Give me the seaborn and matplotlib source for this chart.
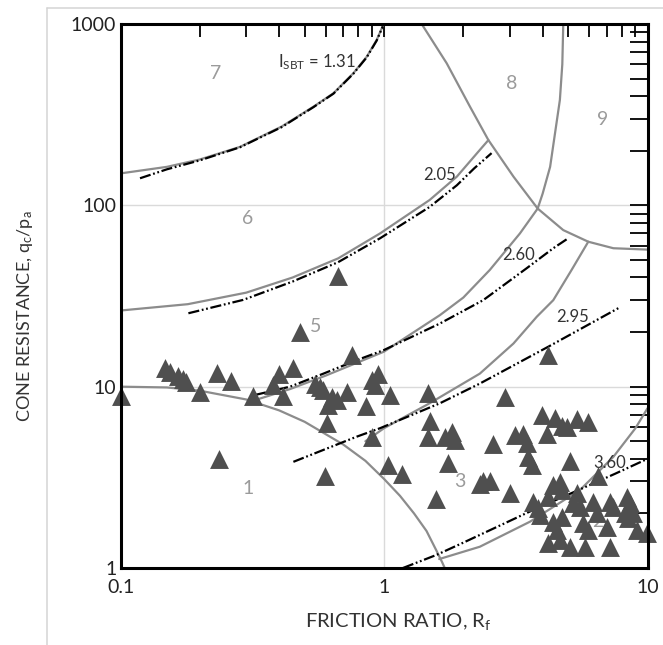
import matplotlib
matplotlib.use("Agg")
import matplotlib.pyplot as plt
import seaborn as sns
from matplotlib.lines import Line2D
from matplotlib.ticker import FixedLocator, FixedFormatter, LogLocator, NullFormatter

sns.set_theme(style="white")
plt.rcParams['font.family'] = ['Lato', 'DejaVu Sans']
plt.rcParams['mathtext.fontset'] = 'custom'
plt.rcParams['mathtext.rm'] = 'Lato'
plt.rcParams['mathtext.it'] = 'Lato:italic'

# ---- CPT measurements (friction ratio Rf in %, normalised cone resistance qc/pa)
friction_ratio = [
    0.100, 0.148, 0.154, 0.166, 0.172, 0.178, 0.200, 0.233, 0.263, 0.236,
    0.319, 0.380, 0.400, 0.415, 0.450, 0.480, 0.547, 0.571, 0.589, 0.633,
    0.661, 0.722, 0.615, 0.610, 0.671, 0.754, 0.855, 0.898, 0.951, 0.925,
    1.054, 0.898, 0.597, 1.040, 1.170,
    1.47, 1.50, 1.47, 1.70, 1.81, 1.86, 1.75, 1.57, 2.31, 2.38,
    2.52, 2.60, 2.88, 3.00, 3.14, 3.38, 3.48, 3.53, 3.64, 3.97,
    4.14, 4.20, 4.46, 4.73, 4.93, 5.38, 5.96, 5.08, 6.50,
    4.39, 4.65, 4.72, 3.69, 3.85, 3.91, 4.20, 5.38, 5.23, 5.54,
    6.22, 6.41, 7.20, 7.42, 8.34, 8.59, 8.84, 8.20, 8.45, 4.39,
    4.72, 4.52, 5.70, 5.96, 7.00, 4.20, 4.65, 5.08, 5.79, 7.20,
    9.10, 9.94,
]
cone_resistance = [
    8.9, 12.6, 12.1, 11.4, 11.0, 10.6, 9.3, 11.9, 10.7, 4.0,
    8.9, 10.2, 11.8, 8.9, 12.6, 20.1, 10.4, 10.0, 9.6, 8.8,
    8.4, 9.4, 7.9, 6.3, 41.0, 14.9, 7.8, 10.9, 11.8, 10.2,
    9.0, 5.3, 3.2, 3.7, 3.3,
    9.2, 6.5, 5.3, 5.3, 5.6, 5.1, 3.8, 2.4, 2.9, 3.0,
    3.0, 4.8, 8.8, 2.6, 5.4, 5.5, 4.9, 4.1, 3.7, 7.0,
    5.5, 14.9, 6.7, 6.1, 6.0, 6.6, 6.4, 3.9, 3.2,
    2.87, 2.99, 2.69, 2.32, 2.13, 1.96, 2.47, 2.58, 2.27, 2.18,
    2.32, 2.00, 2.32, 2.18, 2.47, 2.27, 2.00, 2.00, 1.88, 1.80,
    1.91, 1.62, 1.76, 1.62, 1.69, 1.37, 1.43, 1.31, 1.31, 1.31,
    1.62, 1.55,
]

# ---- soil behaviour type zone boundaries (solid grey)
zone1_rf = [0.10, 0.15, 0.20, 0.30, 0.40, 0.50, 0.70, 0.85, 1.00, 1.15, 1.30, 1.45, 1.58, 1.66, 1.70]
zone1_q = [10.0, 9.9, 9.5, 8.5, 7.4, 6.4, 4.8, 3.9, 3.1, 2.5, 2.0, 1.6, 1.25, 1.08, 1.0]
zone76_rf = [0.10, 0.15, 0.20, 0.284, 0.409, 0.54, 0.643, 0.765, 0.86, 0.938, 0.997]
zone76_q = [150, 163, 179, 210, 272, 350, 415, 535, 660, 816, 1000]
zone65_rf = [0.10, 0.18, 0.30, 0.45, 0.67, 0.966, 1.49, 1.89, 2.31, 2.49]
zone65_q = [26.3, 28.5, 33, 40, 51, 70, 107, 144, 202, 229]
zone54_rf = [0.33, 0.44, 0.60, 1.0, 1.63, 2.0, 2.52, 3.28, 3.83]
zone54_q = [8.5, 9.7, 11.5, 15.6, 24.8, 31, 44, 70, 96]
zone43_rf = [0.85, 1.0, 1.49, 2.31, 3.1, 3.8, 4.39, 5.15, 5.96]
zone43_q = [5.0, 5.9, 8.1, 11.8, 17.3, 24.3, 30, 44, 63]
zone32_rf = [1.62, 2.31, 3.58, 5.54, 7.42, 9.0, 10.0]
zone32_q = [1.12, 1.31, 1.8, 2.69, 4.1, 5.9, 7.6]
zone8_rf = [1.39, 1.73, 2.12, 2.49, 3.1, 3.83, 4.79, 5.96, 7.42, 10.0]
zone8_q = [1000, 607, 350, 229, 144, 96, 73, 63, 58, 57]
zone89_rf = [3.83, 4.0, 4.27, 4.65, 4.75, 4.79]
zone89_q = [96, 116, 163, 381, 600, 1000]

# ---- I_SBT contours (dash-dot black)
isbt131_rf = [0.1186, 0.15, 0.20, 0.284, 0.409, 0.54, 0.643, 0.765, 0.86, 0.938, 0.99]
isbt131_q = [141, 158, 177, 209, 270, 348, 413, 532, 655, 810, 970]
isbt205_rf = [0.181, 0.292, 0.45, 0.67, 0.966, 1.49, 1.89, 2.2, 2.56]
isbt205_q = [25.4, 30.1, 38, 48.6, 65.8, 98, 129, 160, 194]
isbt260_rf = [0.324, 0.44, 0.589, 0.788, 0.997, 1.63, 2.38, 3.48, 4.39, 5.0]
isbt260_q = [9.0, 10.0, 11.8, 14.0, 15.9, 22.3, 30.0, 45.0, 58.0, 65.8]
isbt295_rf = [0.453, 0.788, 0.966, 1.63, 2.31, 4.2, 7.86]
isbt295_q = [3.85, 5.3, 5.9, 8.1, 10.4, 16.6, 27.4]
isbt360_rf = [1.18, 1.58, 2.0, 3.58, 5.5, 7.5, 10.0]
isbt360_q = [1.0, 1.18, 1.38, 2.05, 2.7, 3.3, 4.0]

isbt_text = [r'$\mathregular{I_{SBT}}$ = 1.31', '2.05', '2.60', '2.95', '3.60']
isbt_text_rf = [0.555, 1.63, 3.23, 5.2, 7.21]
isbt_text_q = [619, 147, 53, 24.3, 3.8]

zone_names = ['1', '2', '3', '5', '6', '7', '8', '9']
zone_name_rf = [0.305, 6.5, 1.94, 0.552, 0.305, 0.229, 3.05, 6.76]
zone_name_q = [2.75, 1.8, 3.0, 21.6, 85, 530, 471, 298]

W, H = 663, 645
fig = plt.figure(figsize=(W / 100, H / 100), dpi=100)
fig.patch.set_facecolor('white')

# thin grey frame around the figure
fig.add_artist(Line2D([47 / W, 47 / W], [0, 1 - 7.5 / H], color='#d4d4d4', lw=1.1))
fig.add_artist(Line2D([47 / W, 1], [1 - 7.5 / H, 1 - 7.5 / H], color='#d4d4d4', lw=1.1))

ax = fig.add_axes([120.5 / W, 1 - 568 / H, 527 / W, 544 / H])
ax.set_xscale('log')
ax.set_yscale('log')
ax.set_xlim(0.1, 10)
ax.set_ylim(1, 1000)
ax.set_facecolor('white')

ax.grid(True, which='major', color='#dadada', lw=1.0)
ax.set_axisbelow(True)

grey = '#8c8c8c'
zones = [(zone1_rf, zone1_q), (zone76_rf, zone76_q), (zone65_rf, zone65_q),
         (zone54_rf, zone54_q), (zone43_rf, zone43_q), (zone32_rf, zone32_q),
         (zone8_rf, zone8_q), (zone89_rf, zone89_q)]
for rf, q in zones:
    sns.lineplot(x=rf, y=q, ax=ax, color=grey, linewidth=1.6, sort=False,
                 estimator=None, zorder=2)

dashdot = (0, (5, 1.2, 0.8, 1.2, 0.8, 1.2))
contours = [(isbt131_rf, isbt131_q), (isbt205_rf, isbt205_q), (isbt260_rf, isbt260_q),
            (isbt295_rf, isbt295_q), (isbt360_rf, isbt360_q)]
for rf, q in contours:
    sns.lineplot(x=rf, y=q, ax=ax, color='black', linewidth=1.6, linestyle=dashdot,
                 sort=False, estimator=None, zorder=3)

for name, rf, q in zip(zone_names, zone_name_rf, zone_name_q):
    ax.text(rf, q, name, color='#9b9b9b', fontsize=14, ha='center', va='center', zorder=2.5)

for t, rf, q in zip(isbt_text, isbt_text_rf, isbt_text_q):
    ax.text(rf, q, t, color='#333333', fontsize=12, ha='center', va='center', zorder=3.5)

sns.scatterplot(x=friction_ratio, y=cone_resistance, ax=ax, marker='^', s=185,
                color='#4f4f4f', linewidth=0, zorder=5, clip_on=False, legend=False)

# axes frame and ticks
for sp in ax.spines.values():
    sp.set_color('black')
    sp.set_linewidth(2.2)
    sp.set_zorder(6)

ax.xaxis.set_major_locator(FixedLocator([0.1, 1, 10]))
ax.xaxis.set_major_formatter(FixedFormatter(['0.1', '1', '10']))
ax.yaxis.set_major_locator(FixedLocator([1, 10, 100, 1000]))
ax.yaxis.set_major_formatter(FixedFormatter(['1', '10', '100', '1000']))
ax.xaxis.set_minor_locator(LogLocator(base=10, subs=range(2, 10)))
ax.yaxis.set_minor_locator(LogLocator(base=10, subs=range(2, 10)))
ax.xaxis.set_minor_formatter(NullFormatter())
ax.yaxis.set_minor_formatter(NullFormatter())

ax.tick_params(which='both', direction='in', top=True, right=True, color='black',
               width=1.3, labelcolor='#222222', labelsize=14)
ax.tick_params(axis='y', which='both', length=13, pad=3)
ax.tick_params(axis='x', which='both', length=9.5, pad=8)
ax.set_xlabel('')
ax.set_ylabel('')

fig.text(398.5 / W, 1 - 627.3 / H, r'FRICTION RATIO, $\mathregular{R_f}$', ha='center',
         va='baseline', fontsize=14.5, color='#333333')
fig.text(25 / W, 1 - 316 / H, r'CONE RESISTANCE, $\mathregular{q_c/p_a}$', ha='center',
         va='center', rotation=90, fontsize=13, color='#333333')

fig.savefig('out.png', dpi=100, facecolor='white')
